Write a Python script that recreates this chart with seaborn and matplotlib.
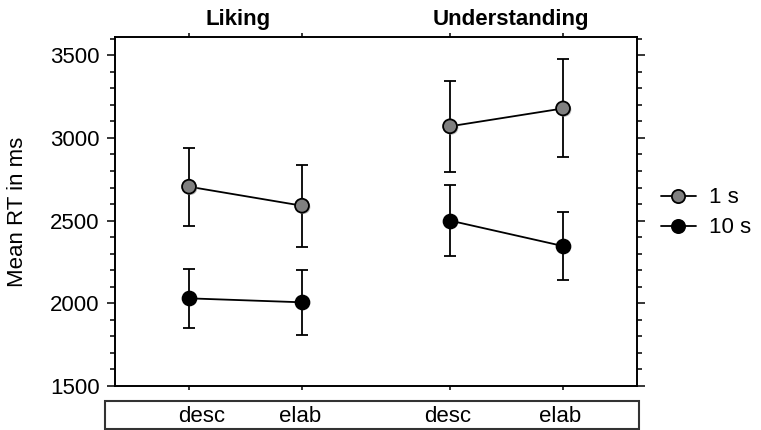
import matplotlib
matplotlib.use('Agg')
import matplotlib.pyplot as plt
import matplotlib.patheffects as pe
import matplotlib.transforms as mtransforms
from matplotlib.lines import Line2D
from matplotlib.patches import Rectangle
from matplotlib.ticker import MultipleLocator
import seaborn as sns
import pandas as pd

# data
tasks = ['Liking', 'Liking', 'Understanding', 'Understanding']
conditions = ['desc', 'elab', 'desc', 'elab']
positions = [0, 1, 2.31, 3.31]
mean_1s = [2705, 2590, 3070, 3178]
err_1s = [236, 247, 274, 296]
mean_10s = [2030, 2006, 2500, 2346]
err_10s = [178, 198, 213, 208]
series = ['1 s', '10 s']
face = {'1 s': '#808080', '10 s': 'black'}

rows = []
for s, means, errs in [('1 s', mean_1s, err_1s), ('10 s', mean_10s, err_10s)]:
    for t, c, p, m, e in zip(tasks, conditions, positions, means, errs):
        rows.append(dict(series=s, task=t, cond=c, pos=p, mean=m, err=e))
df = pd.DataFrame(rows)

sns.set_style('ticks')
plt.rcParams['font.family'] = ['Liberation Sans', 'DejaVu Sans']
plt.rcParams['text.color'] = 'black'
plt.rcParams['axes.labelcolor'] = 'black'
plt.rcParams['xtick.color'] = 'black'
plt.rcParams['ytick.color'] = 'black'

fig = plt.figure(figsize=(7.61, 4.30), dpi=100)
ax = fig.add_axes([0.1511, 0.1023, 0.686, 0.8117])

for s in series:
    for t in ['Liking', 'Understanding']:
        sub = df[(df.series == s) & (df.task == t)]
        sns.lineplot(data=sub, x='pos', y='mean', color='black', lw=1.3,
                     ax=ax, legend=False, zorder=2)
        ax.errorbar(sub['pos'], sub['mean'], yerr=sub['err'], fmt='none',
                    ecolor='black', elinewidth=1.3, capsize=4.5, capthick=1.3,
                    zorder=2)
        effects = None
        if s == '1 s':
            effects = [pe.SimplePatchShadow(offset=(1, -1), shadow_rgbFace='0.6', alpha=0.7),
                       pe.Normal()]
        ax.plot(sub['pos'], sub['mean'], 'o', ms=10, mfc=face[s], mec='black',
                mew=1.3, zorder=3, path_effects=effects)

ax.set_xlim(-0.655, 3.965)
ax.set_ylim(1500, 3610)
ax.set_xlabel('')
ax.set_ylabel('Mean RT in ms', fontsize=16)
ax.yaxis.set_label_coords(-0.167, 0.5)

ax.yaxis.set_major_locator(MultipleLocator(500))
ax.yaxis.set_minor_locator(MultipleLocator(100))
ax.set_xticks(positions)
ax.set_xticklabels([])
ax.tick_params(axis='y', which='both', left=True, right=True, direction='out',
               width=1.1, color='black', labelsize=16, pad=5)
ax.tick_params(axis='y', which='major', length=6)
ax.tick_params(axis='y', which='minor', length=3.5)
ax.tick_params(axis='x', which='both', top=True, bottom=True, direction='out',
               length=3, width=1.1, color='black')
for sp in ax.spines.values():
    sp.set_visible(True)
    sp.set_linewidth(1.4)
    sp.set_color('black')

# group titles above
blend = mtransforms.blended_transform_factory(ax.transData, ax.transAxes)
for label, x in [('Liking', 0.43), ('Understanding', 2.85)]:
    ax.text(x, 1.049, label, transform=blend, ha='center', va='center',
            fontsize=16, fontweight='bold', color='black')

# condition labels in a box below
fig.patches.append(Rectangle((105 / 761, 1 - 429 / 430), (639 - 105) / 761, 28 / 430,
                             transform=fig.transFigure, fill=False,
                             edgecolor='#333333', lw=1.5))
blend_fig = mtransforms.blended_transform_factory(ax.transData, fig.transFigure)
label_pos = [0.115, 0.98, 2.29, 3.28]
for c, x in zip(conditions, label_pos):
    ax.text(x, 1 - 416 / 430, c, transform=blend_fig, ha='center', va='center',
            fontsize=16, color='black', clip_on=False)

handles = [Line2D([], [], color='black', lw=1.3, marker='o', ms=9.5,
                  mfc=face[s], mec='black', mew=1.3) for s in series]
fig.legend(handles, series, loc='center left', bbox_to_anchor=(0.868, 0.505),
           frameon=False, fontsize=16, handlelength=1.6, handletextpad=0.6,
           labelspacing=0.4, borderpad=0, borderaxespad=0)

fig.savefig('out.png', dpi=100)
